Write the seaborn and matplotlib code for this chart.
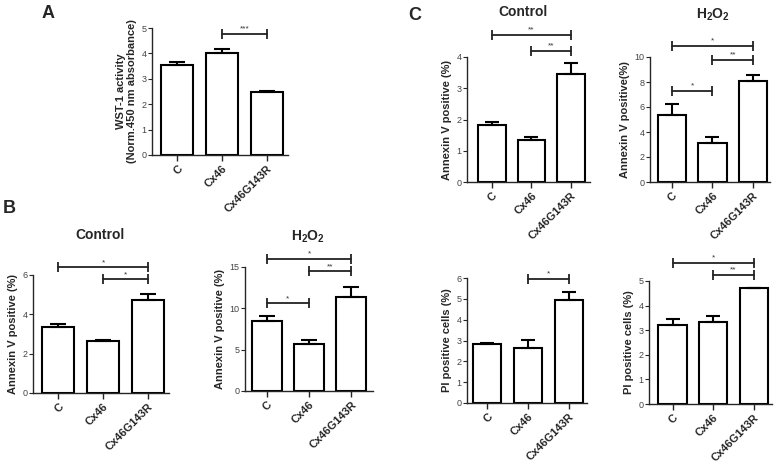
import numpy as np
import pandas as pd
import seaborn as sns
import matplotlib.pyplot as plt

groups = ['C', 'Cx46', 'Cx46G143R']

# A: WST-1
wst_mean = [3.55, 4.02, 2.48]
wst_sem = [0.12, 0.15, 0.05]
wst_sig = [(1, 2, 4.76, '***')]

# B: Annexin V
b_ctrl_mean = [3.38, 2.62, 4.72]
b_ctrl_sem = [0.12, 0.06, 0.33]
b_ctrl_sig = [(0, 2, 6.4, '*'), (1, 2, 5.78, '*')]
b_h2o2_mean = [8.47, 5.69, 11.4]
b_h2o2_sem = [0.6, 0.48, 1.2]
b_h2o2_sig = [(0, 1, 10.6, '*'), (1, 2, 14.5, '**'), (0, 2, 16.0, '*')]

# C: Annexin V and PI
c_ctrl_ann_mean = [1.82, 1.35, 3.46]
c_ctrl_ann_sem = [0.11, 0.09, 0.34]
c_ctrl_ann_sig = [(0, 2, 4.7, '**'), (1, 2, 4.19, '**')]
c_h2o2_ann_mean = [5.4, 3.16, 8.05]
c_h2o2_ann_sem = [0.82, 0.45, 0.48]
c_h2o2_ann_sig = [(0, 1, 7.28, '*'), (1, 2, 9.76, '**'), (0, 2, 10.9, '*')]
c_ctrl_pi_mean = [2.82, 2.63, 4.96]
c_ctrl_pi_sem = [0.04, 0.41, 0.36]
c_ctrl_pi_sig = [(1, 2, 5.95, '*')]
c_h2o2_pi_mean = [3.2, 3.35, 4.71]
c_h2o2_pi_sem = [0.26, 0.23, 0.02]
c_h2o2_pi_sig = [(1, 2, 5.24, '**'), (0, 2, 5.74, '*')]

sns.set_style('ticks')
plt.rcParams['font.family'] = ['Liberation Sans', 'DejaVu Sans']
plt.rcParams['mathtext.fontset'] = 'custom'
plt.rcParams['mathtext.rm'] = 'Liberation Sans'
plt.rcParams['mathtext.bf'] = 'Liberation Sans:bold'

W, H = 779, 462
fig = plt.figure(figsize=(W / 100, H / 100), dpi=100)


def rect(x0, x1, ytop, y0):
    return [x0 / W, 1 - y0 / H, (x1 - x0) / W, (y0 - ytop) / H]


def panel(r, mean, sem, sig, ylim, yticks, xlim, ylabel, cap=5):
    ax = fig.add_axes(r)
    df = pd.DataFrame({'group': groups, 'value': mean})
    sns.barplot(data=df, x='group', y='value', color='white', saturation=1,
                edgecolor='black', linewidth=1.5, width=0.7, errorbar=None, ax=ax)
    x = np.arange(len(groups))
    ax.errorbar(x, mean, yerr=[np.zeros(len(mean)), sem], fmt='none', ecolor='black',
                elinewidth=1.5, capsize=cap, capthick=1.5, zorder=5)
    for i, j, y, lab in sig:
        ax.plot([i, j], [y, y], color='#222222', lw=1.3, marker='|', ms=7, mew=1.3,
                clip_on=False, zorder=6)
        ax.text((i + j) / 2, y + (ylim[1] - ylim[0]) * 0.01, lab, ha='center', va='bottom',
                fontsize=6, color='#333333', clip_on=False)
    ax.set_xlim(xlim)
    ax.set_ylim(ylim)
    ax.set_yticks(yticks)
    ax.set_xlabel('')
    ax.set_ylabel(ylabel, fontsize=8, fontweight='bold', labelpad=3)
    sns.despine(ax=ax)
    for s in ['left', 'bottom']:
        ax.spines[s].set_linewidth(1.0)
    ax.tick_params(axis='y', labelsize=6.5, labelcolor='#444444', length=3, width=0.8, pad=1)
    ax.tick_params(axis='x', labelsize=8, length=4, width=1.0, pad=2)
    for t in ax.get_xticklabels():
        t.set_rotation(45)
        t.set_ha('right')
        t.set_rotation_mode('anchor')
        t.set_fontweight('bold')
    return ax


panel(rect(152, 288, 28, 155), wst_mean, wst_sem, wst_sig, (0, 5), range(0, 6),
      (-0.56, 2.47), 'WST-1 activity\n(Norm.450 nm absorbance)', cap=6)
panel(rect(33, 169, 275, 393), b_ctrl_mean, b_ctrl_sem, b_ctrl_sig, (0, 6), [0, 2, 4, 6],
      (-0.56, 2.47), 'Annexin V positive (%)', cap=6)
panel(rect(245, 373, 267, 391), b_h2o2_mean, b_h2o2_sem, b_h2o2_sig, (0, 15), [0, 5, 10, 15],
      (-0.52, 2.52), 'Annexin V positive (%)', cap=6)
panel(rect(467, 590, 57, 182), c_ctrl_ann_mean, c_ctrl_ann_sem, c_ctrl_ann_sig, (0, 4), range(0, 5),
      (-0.63, 2.48), 'Annexin V positive (%)')
panel(rect(650, 770, 57, 182), c_h2o2_ann_mean, c_h2o2_ann_sem, c_h2o2_ann_sig, (0, 10), range(0, 11, 2),
      (-0.54, 2.42), 'Annexin V positive(%)')
panel(rect(467, 587, 278, 403), c_ctrl_pi_mean, c_ctrl_pi_sem, c_ctrl_pi_sig, (0, 6), range(0, 7),
      (-0.49, 2.44), 'PI positive cells (%)')
panel(rect(649, 772, 281, 404), c_h2o2_pi_mean, c_h2o2_pi_sem, c_h2o2_pi_sig, (0, 5), range(0, 6),
      (-0.58, 2.45), 'PI positive cells (%)')

# titles and panel letters
def ftext(x, y, s, **kw):
    fig.text(x / W, 1 - y / H, s, ha='center', va='center', **kw)

ftext(100, 235, 'Control', fontsize=10, fontweight='bold')
ftext(308, 237, r'$\mathbf{H_2O_2}$', fontsize=10)
ftext(523, 12, 'Control', fontsize=10, fontweight='bold')
ftext(713, 15, r'$\mathbf{H_2O_2}$', fontsize=10)
ftext(48, 13, 'A', fontsize=13, fontweight='bold')
ftext(9, 209, 'B', fontsize=13, fontweight='bold')
ftext(415, 15, 'C', fontsize=13, fontweight='bold')

fig.savefig('out.png', dpi=100)
